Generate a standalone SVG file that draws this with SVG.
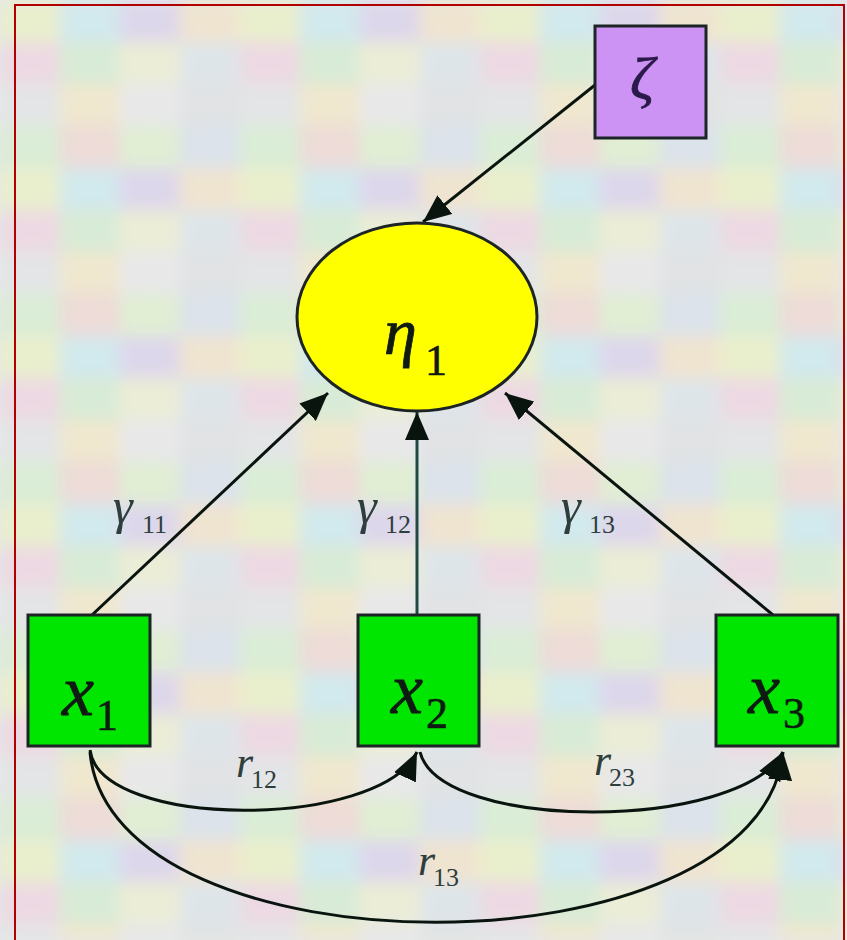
<svg xmlns="http://www.w3.org/2000/svg" width="847" height="940" viewBox="0 0 847 940">
<defs>
<pattern id="puzzle" x="0" y="0" width="240" height="168" patternUnits="userSpaceOnUse">
<rect x="0" y="0" width="60" height="42" fill="#e6ecc4"/>
<rect x="60" y="0" width="60" height="42" fill="#cbe5ea"/>
<rect x="120" y="0" width="60" height="42" fill="#d8d0e8"/>
<rect x="180" y="0" width="60" height="42" fill="#ede0c8"/>
<rect x="0" y="42" width="60" height="42" fill="#ead3de"/>
<rect x="60" y="42" width="60" height="42" fill="#d2e8cf"/>
<rect x="120" y="42" width="60" height="42" fill="#e8ead0"/>
<rect x="180" y="42" width="60" height="42" fill="#d9e1e6"/>
<rect x="0" y="84" width="60" height="42" fill="#dfe1e3"/>
<rect x="60" y="84" width="60" height="42" fill="#ede3c6"/>
<rect x="120" y="84" width="60" height="42" fill="#e4e4e6"/>
<rect x="180" y="84" width="60" height="42" fill="#dcdfe0"/>
<rect x="0" y="126" width="60" height="42" fill="#d4eacf"/>
<rect x="60" y="126" width="60" height="42" fill="#ead6d2"/>
<rect x="120" y="126" width="60" height="42" fill="#dcebcc"/>
<rect x="180" y="126" width="60" height="42" fill="#d6dee8"/>
</pattern>
<filter id="soft" filterUnits="userSpaceOnUse" x="0" y="0" width="847" height="940"><feGaussianBlur stdDeviation="8"/></filter>
<marker id="arr" markerUnits="userSpaceOnUse" markerWidth="30" markerHeight="24" refX="28" refY="12" orient="auto">
<path d="M0,0 L28,12 L0,24 z" fill="#0a140f"/>
</marker>
<style>
.node{stroke:#1c2426;stroke-width:3}
.edge{fill:none;stroke:#0a140f;stroke-width:3}
.big{font-family:"Liberation Serif","Times New Roman",serif;font-style:italic;fill:#0e1a12;stroke:#0e1a12;stroke-width:0.8}
.sub{font-family:"Liberation Serif","Times New Roman",serif;fill:#0e1a12;stroke:#0e1a12;stroke-width:0.6}
.lab{font-family:"Liberation Serif","Times New Roman",serif;font-style:italic;fill:#2e3e3c}
.labsub{font-family:"Liberation Serif","Times New Roman",serif;fill:#2e3e3c}
</style>
</defs>
<rect x="0" y="0" width="847" height="940" fill="#e2e4e2"/>
<rect x="0" y="0" width="847" height="940" fill="url(#puzzle)" filter="url(#soft)"/>
<rect x="0" y="0" width="847" height="940" fill="#ffffff" opacity="0.15"/>
<rect x="15" y="5" width="829" height="945" fill="none" stroke="#b00000" stroke-width="2"/>

<g id="connectors">
<line class="edge" x1="595" y1="85" x2="423" y2="222" marker-end="url(#arr)"/>
<line class="edge" x1="92" y1="615" x2="328" y2="393" marker-end="url(#arr)"/>
<line class="edge" x1="417" y1="615" x2="417" y2="412" marker-end="url(#arr)" style="stroke:#1f4a44"/>
<line class="edge" x1="773" y1="615" x2="505" y2="393" marker-end="url(#arr)"/>
<path class="edge" d="M 90 750 C 100 830, 380 830, 417 752" marker-end="url(#arr)"/>
<path class="edge" d="M 420 752 C 440 832, 740 832, 783 752" marker-end="url(#arr)"/>
<path class="edge" d="M 90 752 C 110 979, 760 979, 783 752" marker-end="url(#arr)"/>
</g>

<g id="zeta">
<rect class="node" x="595" y="26" width="111" height="112" fill="#cc92f4"/>
<text class="big" x="630" y="98" font-size="60" style="fill:#2a1a4a;stroke:#2a1a4a">ζ</text>
</g>

<g id="eta1">
<ellipse class="node" cx="417" cy="317" rx="120" ry="94" fill="#ffff00"/>
<text class="big" x="384" y="354" font-size="66">η</text>
<text class="sub" x="425" y="375" font-size="44">1</text>
</g>

<g id="x1">
<rect class="node" x="28" y="615" width="122" height="131" fill="#00e600"/>
<text class="big" x="62" y="715" font-size="72">x</text>
<text class="sub" x="96" y="730" font-size="44">1</text>
</g>
<g id="x2">
<rect class="node" x="358" y="615" width="121" height="131" fill="#00e600"/>
<text class="big" x="391" y="713" font-size="72">x</text>
<text class="sub" x="426" y="728" font-size="44">2</text>
</g>
<g id="x3">
<rect class="node" x="716" y="615" width="122" height="131" fill="#00e600"/>
<text class="big" x="748" y="713" font-size="72">x</text>
<text class="sub" x="783" y="728" font-size="44">3</text>
</g>

<g id="labels">
<text class="lab" x="113" y="523" font-size="50">γ</text>
<text class="labsub" x="142" y="533" font-size="26">11</text>
<text class="lab" x="357" y="523" font-size="50">γ</text>
<text class="labsub" x="385" y="533" font-size="26">12</text>
<text class="lab" x="561" y="523" font-size="50">γ</text>
<text class="labsub" x="589" y="533" font-size="26">13</text>
<text class="lab" x="236" y="777" font-size="44">r</text>
<text class="labsub" x="251" y="788" font-size="26">12</text>
<text class="lab" x="594" y="775" font-size="44">r</text>
<text class="labsub" x="609" y="786" font-size="26">23</text>
<text class="lab" x="418" y="875" font-size="44">r</text>
<text class="labsub" x="433" y="886" font-size="26">13</text>
</g>
</svg>
